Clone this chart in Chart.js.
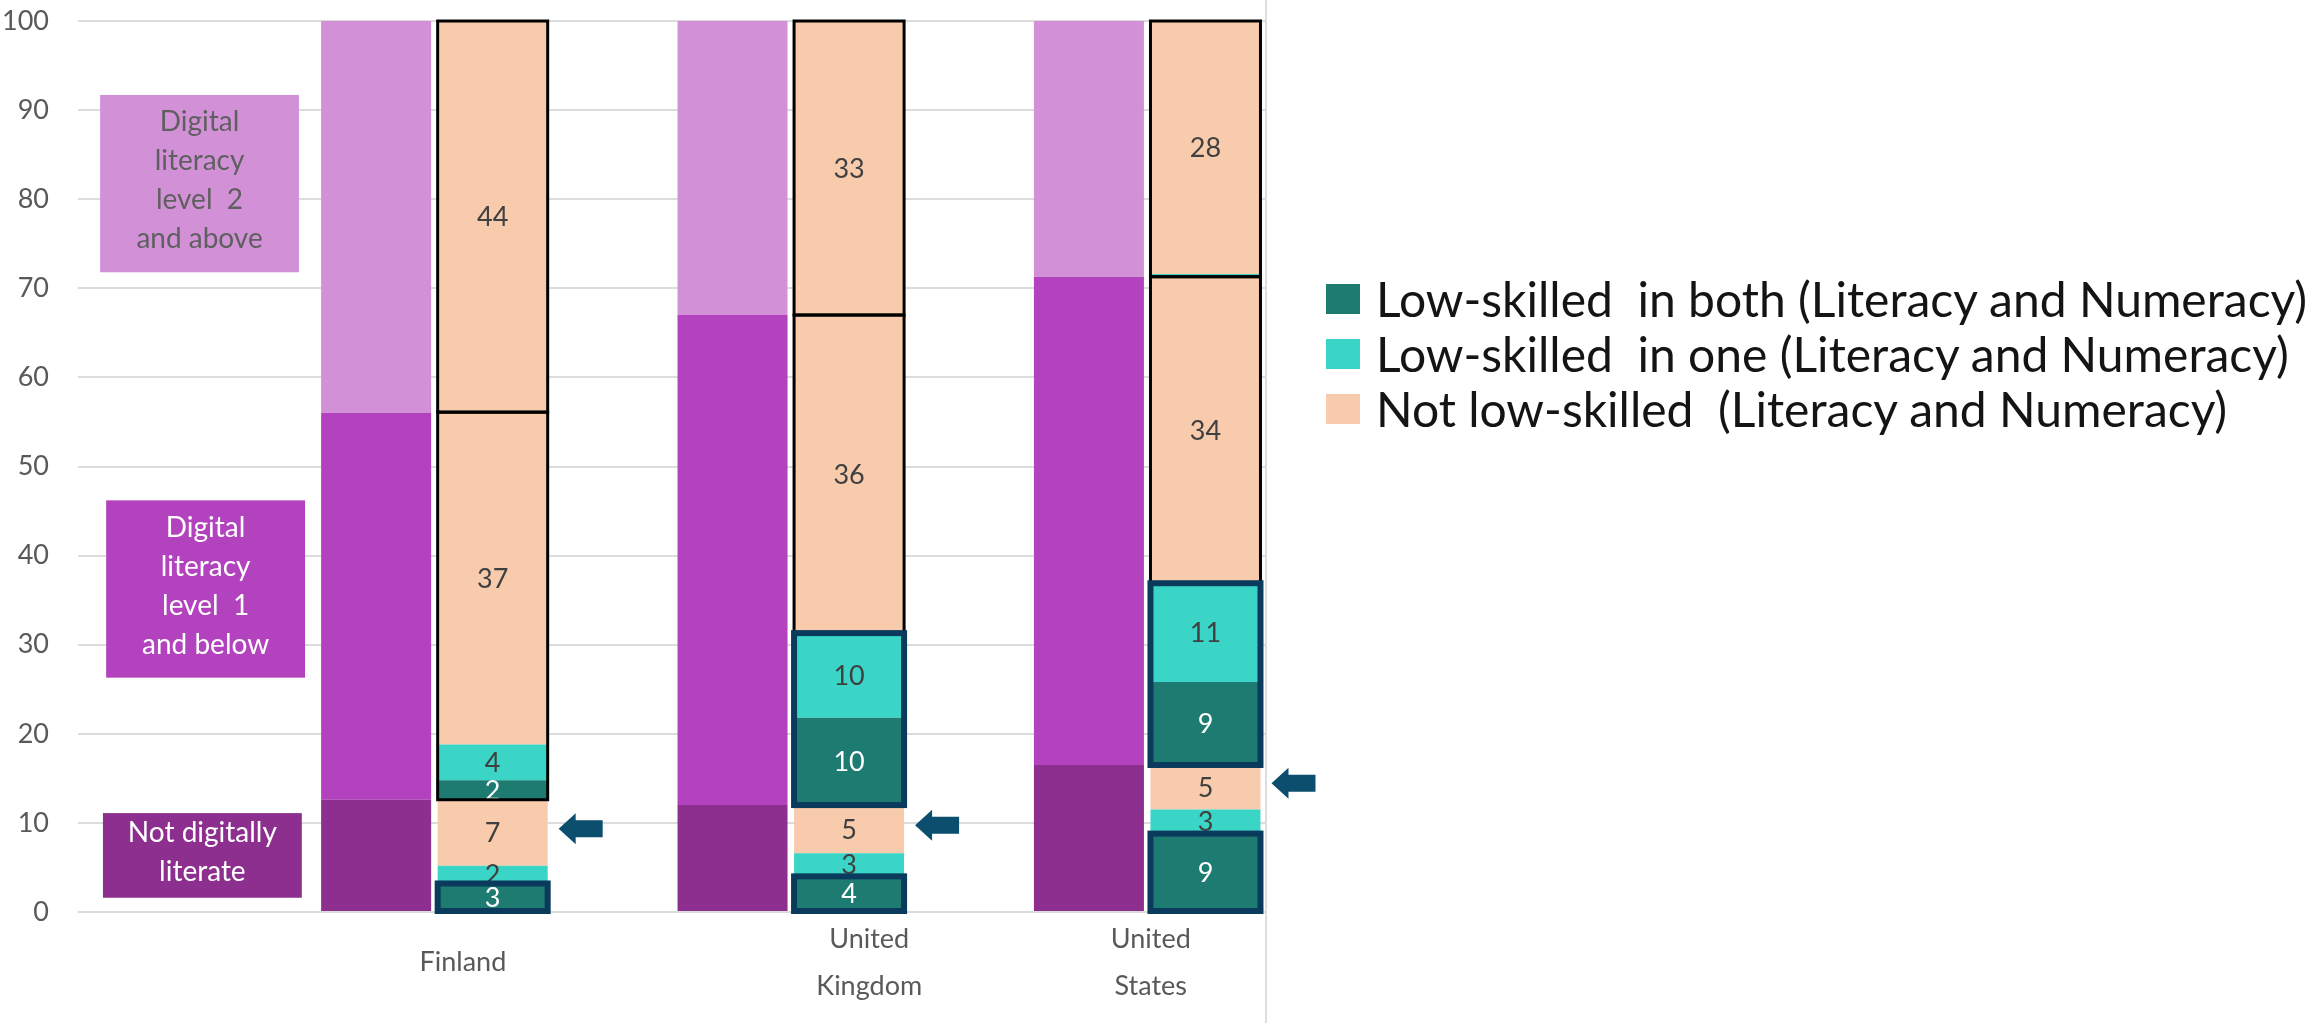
<!DOCTYPE html>
<html lang="en">
<head>
<meta charset="utf-8">
<title>Digital literacy and low skills</title>
<script src="https://cdn.jsdelivr.net/npm/chart.js@4.4.1/dist/chart.umd.min.js"></script>
<style>
    html, body { margin: 0; padding: 0; background: #fff; }
    body { width: 2318px; height: 1023px; position: relative; overflow: hidden; font-family: Lato, sans-serif; }
    #marco { position: absolute; left: 1265px; top: 0; width: 2px; height: 1023px; background: #dedede; }
    #contenedor { position: absolute; left: 0; top: 0; width: 1330px; height: 1023px; }
    #leyenda { position: absolute; left: 1326px; top: 271px; }
    .fila { display: flex; align-items: center; height: 55px; white-space: pre; font-size: 48px; color: #141414; }
    .caja { width: 34px; height: 30px; margin-right: 16px; flex: none; }
</style>
</head>
<body>
<div id="marco"></div>
<div id="contenedor"><canvas id="grafico"></canvas></div>
<div id="leyenda"></div>
<script>
// Países y posiciones en el eje x
const paises = [['Finland'], ['United', 'Kingdom'], ['United', 'States']];
const posicionPais = [1, 2, 3];
const posicionEtiqueta = [1.08, 2.22, 3.01];
const ticksY = [0, 10, 20, 30, 40, 50, 60, 70, 80, 90, 100];

// Alfabetización digital (barra morada)
const nombresDigital = ['Not digitally literate', 'Digital literacy level 1 and below', 'Digital literacy level 2 and above'];
const noAlfabetizado = [12.6, 12.0, 16.5];
const nivel1 = [43.4, 55.0, 54.8];
const nivel2 = [44.0, 33.0, 28.7];

// Competencias (lectura y cálculo) dentro de cada grupo digital
const nombresCompetencia = [
    'Low-skilled  in both (Literacy and Numeracy)',
    'Low-skilled  in one (Literacy and Numeracy)',
    'Not low-skilled  (Literacy and Numeracy)'
];
const ambosNoAlf = [3.2, 4.0, 8.8];
const unaNoAlf = [2.0, 2.6, 2.7];
const ningunaNoAlf = [7.4, 5.4, 5.0];
const ambosN1 = [2.2, 9.8, 9.3];
const unaN1 = [4.0, 9.5, 11.1];
const ningunaN1 = [37.3, 35.7, 34.4];
const ambosN2 = [0, 0, 0];
const unaN2 = [0, 0, 0.3];
const ningunaN2 = [43.9, 33.0, 28.4];

// Segmentos de baja competencia resaltados con marco azul
const marcoNoAlf = [true, true, true];
const marcoN1 = [false, true, true];

// Textos de las cajas de la izquierda
const textosCaja = [
    ['Not digitally', 'literate'],
    ['Digital', 'literacy', 'level  1', 'and below'],
    ['Digital', 'literacy', 'level  2', 'and above']
];

const coloresDigital = ['#8C2F8F', '#B242BD', '#D291D7'];
const coloresCompetencia = ['#1D7B71', '#3AD5C7', '#F8CBAD'];

function puntos(valores) {
    return valores.map((v, i) => ({ x: posicionPais[i], y: v }));
}

// Construir datasets
const datasets = [];
[noAlfabetizado, nivel1, nivel2].forEach((valores, k) => {
    datasets.push({
        label: nombresDigital[k],
        data: puntos(valores),
        backgroundColor: coloresDigital[k],
        stack: 'digital',
        tipo: 'digital',
        grupo: k
    });
});

const grupos = [
    [ambosNoAlf, unaNoAlf, ningunaNoAlf],
    [ambosN1, unaN1, ningunaN1],
    [ambosN2, unaN2, ningunaN2]
];
grupos.forEach((serie, g) => {
    serie.forEach((valores, s) => {
        datasets.push({
            label: nombresCompetencia[s],
            data: puntos(valores),
            backgroundColor: coloresCompetencia[s],
            stack: 'competencias',
            tipo: 'competencia',
            grupo: g,
            nivel: s
        });
    });
});

// Barra de competencias del grupo g y nivel s para el país j
function barra(chart, g, s, j) {
    const idx = chart.data.datasets.findIndex(d => d.tipo === 'competencia' && d.grupo === g && d.nivel === s);
    return chart.getDatasetMeta(idx).data[j].getProps(['x', 'y', 'base', 'width'], true);
}

// Cajas, etiquetas, marcos y flechas
const anotaciones = {
    id: 'anotaciones',
    afterDatasetsDraw(chart, args, opts) {
        const ctx = chart.ctx;
        const ejeX = chart.scales.x;
        const ejeY = chart.scales.y;
        ctx.save();
        ctx.textAlign = 'center';
        ctx.textBaseline = 'middle';

        // Cajas de texto
        opts.cajas.forEach((c, k) => {
            const x0 = ejeX.getPixelForValue(c.x0);
            const x1 = ejeX.getPixelForValue(c.x1);
            const y0 = ejeY.getPixelForValue(c.y1);
            const y1 = ejeY.getPixelForValue(c.y0);
            ctx.fillStyle = coloresDigital[k];
            ctx.fillRect(x0, y0, x1 - x0, y1 - y0);
            ctx.fillStyle = c.color;
            ctx.font = '28px Lato';
            const lineas = textosCaja[k];
            const centro = (y0 + y1) / 2 - 3;
            lineas.forEach((t, n) => {
                ctx.fillText(t, (x0 + x1) / 2, centro + (n - (lineas.length - 1) / 2) * 39);
            });
        });

        // Valores dentro de los segmentos
        ctx.font = '27px Lato';
        chart.data.datasets.forEach((ds, i) => {
            if (ds.tipo !== 'competencia') return;
            chart.getDatasetMeta(i).data.forEach((el, j) => {
                const v = ds.data[j].y;
                if (v < 1) return;
                const p = el.getProps(['x', 'y', 'base'], true);
                ctx.fillStyle = ds.nivel === 0 ? '#ffffff' : '#404040';
                ctx.fillText(Math.round(v), p.x, (p.y + p.base) / 2 + 1);
            });
        });

        posicionPais.forEach((_, j) => {
            // Marcos negros de los grupos nivel 1 y nivel 2
            ctx.strokeStyle = '#000000';
            ctx.lineWidth = 3;
            [1, 2].forEach(g => {
                const abajo = barra(chart, g, 0, j);
                const arriba = barra(chart, g, 2, j);
                ctx.strokeRect(abajo.x - abajo.width / 2, arriba.y, abajo.width, abajo.base - arriba.y);
            });

            // Marcos azules de baja competencia
            ctx.strokeStyle = '#0A3A5C';
            ctx.lineWidth = 6;
            if (marcoNoAlf[j]) {
                const b = barra(chart, 0, 0, j);
                ctx.strokeRect(b.x - b.width / 2, b.y, b.width, b.base - b.y);
            }
            if (marcoN1[j]) {
                const abajo = barra(chart, 1, 0, j);
                const arriba = barra(chart, 1, 1, j);
                ctx.strokeRect(abajo.x - abajo.width / 2, arriba.y, abajo.width, abajo.base - arriba.y);
            }

            // Flecha hacia el segmento no digital sin baja competencia
            const seg = barra(chart, 0, 2, j);
            const punta = seg.x + seg.width / 2 + 11;
            const cy = (seg.y + seg.base) / 2 - 4;
            ctx.fillStyle = '#0B4E6E';
            ctx.beginPath();
            ctx.moveTo(punta, cy);
            ctx.lineTo(punta + 17, cy - 15.5);
            ctx.lineTo(punta + 17, cy - 8.5);
            ctx.lineTo(punta + 44, cy - 8.5);
            ctx.lineTo(punta + 44, cy + 8.5);
            ctx.lineTo(punta + 17, cy + 8.5);
            ctx.lineTo(punta + 17, cy + 15.5);
            ctx.closePath();
            ctx.fill();
        });
        ctx.restore();
    }
};

const ctx = document.getElementById('grafico').getContext('2d');
const grafico = new Chart(ctx, {
    type: 'bar',
    data: { datasets: datasets },
    plugins: [anotaciones],
    options: {
        responsive: true,
        maintainAspectRatio: false,
        animation: false,
        layout: { padding: { top: 21, right: 64, bottom: 0, left: 0 } },
        datasets: {
            bar: { categoryPercentage: 0.654, barPercentage: 0.944, borderWidth: 0 }
        },
        plugins: {
            legend: { display: false },
            tooltip: { enabled: false },
            anotaciones: {
                cajas: [
                    { x0: 0.07, x1: 0.628, y0: 1.6, y1: 11.1, color: '#ffffff' },
                    { x0: 0.079, x1: 0.637, y0: 26.3, y1: 46.2, color: '#ffffff' },
                    { x0: 0.062, x1: 0.62, y0: 71.8, y1: 91.7, color: '#5f5f5f' }
                ]
            }
        },
        scales: {
            x: {
                type: 'linear',
                min: 0,
                max: 10 / 3,
                stacked: true,
                offset: false,
                grid: { display: false, drawTicks: false },
                border: { display: false },
                ticks: { display: false },
                afterBuildTicks: eje => { eje.ticks = posicionPais.map(v => ({ value: v })); }
            },
            xEtiquetas: {
                type: 'linear',
                axis: 'x',
                position: 'bottom',
                min: 0,
                max: 10 / 3,
                offset: false,
                grid: { display: false, drawTicks: false },
                border: { display: false },
                afterBuildTicks: eje => { eje.ticks = posicionEtiqueta.map(v => ({ value: v })); },
                afterFit: eje => { eje.height = 111; },
                ticks: {
                    autoSkip: false,
                    maxRotation: 0,
                    crossAlign: 'center',
                    padding: 27,
                    color: '#595959',
                    font: { family: 'Lato', size: 27, lineHeight: 1.74 },
                    callback: (v, i) => paises[i]
                }
            },
            y: {
                stacked: true,
                min: 0,
                max: 100,
                afterBuildTicks: eje => { eje.ticks = ticksY.map(v => ({ value: v })); },
                afterFit: eje => {
                    eje.width = 78;
                    eje.paddingTop = 0;
                    eje.paddingBottom = 0;
                },
                grid: { color: '#dcdcdc', lineWidth: 2, drawTicks: false },
                border: { display: false },
                ticks: {
                    padding: 29,
                    color: '#595959',
                    font: { family: 'Lato', size: 27 }
                }
            }
        }
    }
});

// Leyenda de competencias
function construirLeyenda() {
    const cont = document.getElementById('leyenda');
    nombresCompetencia.forEach((nombre, s) => {
        const fila = document.createElement('div');
        fila.className = 'fila';
        fila.innerHTML = `<span class="caja" style="background:${coloresCompetencia[s]}"></span><span>${nombre}</span>`;
        cont.appendChild(fila);
    });
}
construirLeyenda();
</script>
</body>
</html>
